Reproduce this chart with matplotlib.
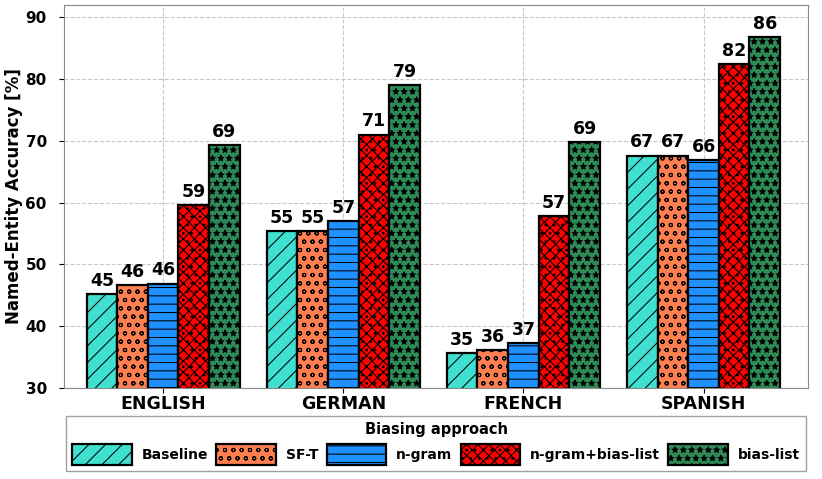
import matplotlib
matplotlib.use("Agg")
import matplotlib.pyplot as plt
import numpy as np

languages = ["ENGLISH", "GERMAN", "FRENCH", "SPANISH"]
approaches = ["Baseline", "SF-T", "n-gram", "n-gram+bias-list", "bias-list"]

baseline = [45.2, 55.4, 35.7, 67.6]
sf_t = [46.7, 55.4, 36.1, 67.6]
ngram = [46.9, 57.0, 37.3, 66.9]
ngram_bias = [59.6, 71.0, 57.8, 82.4]
bias_list = [69.3, 79.05, 69.8, 86.8]

series = [baseline, sf_t, ngram, ngram_bias, bias_list]
colors = ["#40E0D0", "#FF7F50", "#1E90FF", "#FF0000", "#2E8B57"]
hatches = ["//", "oo", "--", "xxx..", "**"]

plt.rcParams["hatch.linewidth"] = 0.75

fig = plt.figure(figsize=(8.22, 4.79), dpi=100)
ax = fig.add_axes([0.078, 0.19, 0.905, 0.80])

x = np.arange(len(languages))
width = 0.17

for i, values in enumerate(series):
    pos = x + (i - 2) * width
    bars = ax.bar(pos, values, width, color=colors[i], edgecolor="black",
                  linewidth=1.6, hatch=hatches[i], label=approaches[i])
    for b, v in zip(bars, values):
        ax.annotate(str(int(v)), (b.get_x() + b.get_width() / 2, v),
                    xytext=(0, 3), textcoords="offset points",
                    ha="center", va="bottom", fontsize=12.5, fontweight="bold")

ax.set_ylim(30, 92)
ax.set_xlim(-0.55, 3.58)
ax.set_yticks([30, 40, 50, 60, 70, 80, 90])
ax.set_xticks(x)
ax.set_xticklabels(languages, fontsize=12.5, fontweight="bold")
for lab in ax.get_yticklabels():
    lab.set_fontsize(11)
    lab.set_fontweight("bold")
ax.tick_params(axis="y", pad=9)
ax.tick_params(axis="x", pad=1.5)
ax.set_ylabel("Named-Entity Accuracy [%]", fontsize=12, fontweight="bold",
              labelpad=2)

ax.set_axisbelow(True)
ax.grid(True, linestyle="--", color="#c8c8c8", linewidth=0.8)
for s in ax.spines.values():
    s.set_color("#888888")

leg = ax.legend(loc="upper center", bbox_to_anchor=(0.5, -0.055), ncol=5,
                prop={"weight": "bold", "size": 10},
                title="Biasing approach",
                title_fontproperties={"weight": "bold", "size": 10.5},
                handlelength=4.3, handleheight=1.9, handletextpad=0.7,
                columnspacing=0.6, fancybox=False, edgecolor="#888888",
                borderpad=0.45)
leg.get_frame().set_linewidth(1.0)

fig.savefig("out.png", dpi=100)
